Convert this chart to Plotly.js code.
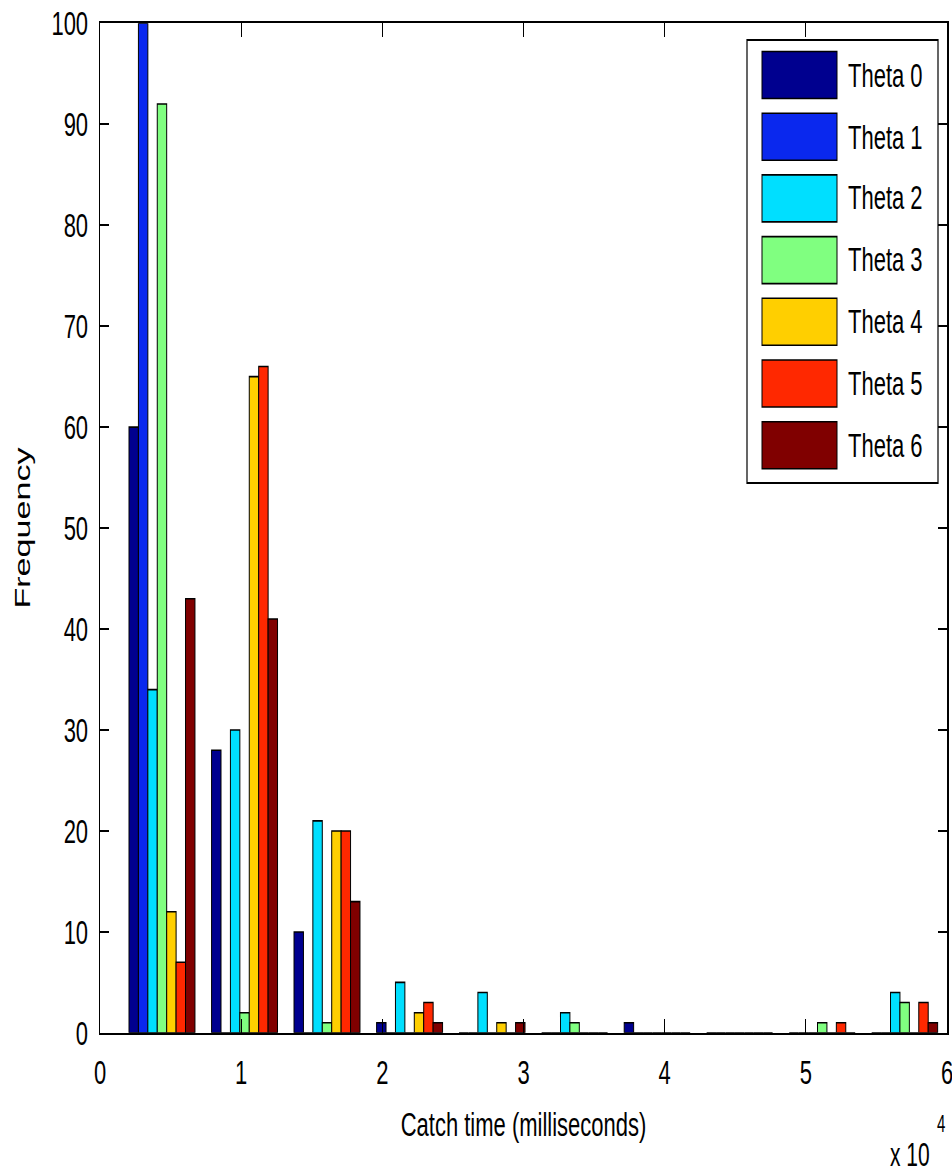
<!DOCTYPE html>
<html>
<head>
<meta charset="utf-8">
<script src="https://cdn.plot.ly/plotly-3.0.1.min.js"></script>
<style>
  html, body { margin: 0; padding: 0; background: #ffffff; }
  #wrap { width: 952px; height: 1174px; overflow: hidden; position: relative; background: #fff; }
  #plot { width: 952px; height: 757px; transform-origin: 0 0; }
</style>
</head>
<body>
<div id="wrap"><div id="plot"></div></div>
<script>
// ---- data (catch time in units of 10^4 ms) ----
const binCenters = [0.439, 1.024, 1.608, 2.193, 2.777, 3.362, 3.947, 4.531, 5.116, 5.700];
const seriesNames = ["Theta 0", "Theta 1", "Theta 2", "Theta 3", "Theta 4", "Theta 5", "Theta 6"];
const theta0 = [60, 28, 10, 1, 0, 0, 1, 0, 0, 0];
const theta1 = [100, 0, 0, 0, 0, 0, 0, 0, 0, 0];
const theta2 = [34, 30, 21, 5, 4, 2, 0, 0, 0, 4];
const theta3 = [92, 2, 1, 0, 0, 1, 0, 0, 1, 3];
const theta4 = [12, 65, 20, 2, 1, 0, 0, 0, 0, 0];
const theta5 = [7, 66, 20, 3, 0, 0, 0, 0, 1, 3];
const theta6 = [43, 41, 13, 1, 1, 0, 0, 0, 0, 1];
const seriesColors = ["#00008F", "#0A28EE", "#00DFFF", "#80FF80", "#FFCF00", "#FF2800", "#800000"];
const xTickVals = [0, 1, 2, 3, 4, 5, 6];
const yTickVals = [0, 10, 20, 30, 40, 50, 60, 70, 80, 90, 100];
const xTitle = "Catch time (milliseconds)";
const yTitle = "Frequency";

// ---- geometry: page is drawn at reduced height then stretched vertically ----
const W = 952, H0 = 757, S = 1174 / H0;
const M = { l: 100, r: 5, t: 15, b: 91 };
const plotW = W - M.l - M.r, plotH = H0 - M.t - M.b, plotBottom = H0 - M.b;
document.getElementById('plot').style.transform = 'scaleY(' + S + ')';
const px2x = px => (px - M.l) / plotW;
const py2y = py => (plotBottom - py / S) / plotH;

const allSeries = [theta0, theta1, theta2, theta3, theta4, theta5, theta6];
const FONT = "Liberation Sans, Arial, Helvetica, sans-serif";

const traces = allSeries.map((vals, i) => ({
  type: 'bar',
  name: seriesNames[i],
  x: binCenters,
  y: vals,
  marker: { color: seriesColors[i], line: { color: '#000000', width: 1 } },
  showlegend: false,
  hoverinfo: 'x+y+name'
}));

// custom MATLAB-style legend built from names / colours
const shapes = [];
const annotations = [];
shapes.push({
  type: 'rect', xref: 'paper', yref: 'paper', layer: 'above',
  x0: px2x(747), x1: px2x(938), y0: py2y(483), y1: py2y(40),
  fillcolor: '#ffffff', line: { color: '#000000', width: 1.2 }
});
seriesNames.forEach((nm, i) => {
  const cy = 75 + 61.7 * i;
  shapes.push({
    type: 'rect', xref: 'paper', yref: 'paper', layer: 'above',
    x0: px2x(762), x1: px2x(837), y0: py2y(cy + 23.5), y1: py2y(cy - 23.5),
    fillcolor: seriesColors[i], line: { color: '#000000', width: 1 }
  });
  annotations.push({
    xref: 'paper', yref: 'paper', x: px2x(846), y: py2y(cy),
    xanchor: 'left', yanchor: 'middle', showarrow: false,
    text: nm, font: { family: FONT, size: 22, color: '#000000' }
  });
});
// exponent label
annotations.push({
  xref: 'paper', yref: 'paper', x: px2x(910), y: py2y(1154),
  xanchor: 'center', yanchor: 'middle', showarrow: false, borderpad: 0,
  text: 'x 10', font: { family: FONT, size: 21, color: '#000000' }
});
annotations.push({
  xref: 'paper', yref: 'paper', x: px2x(941), y: py2y(1124),
  xanchor: 'center', yanchor: 'middle', showarrow: false, borderpad: 0,
  text: '4', font: { family: FONT, size: 15, color: '#000000' }
});

const axisCommon = {
  showline: true, linecolor: '#000000', linewidth: 1.5, mirror: 'ticks',
  ticks: 'inside', ticklen: 9, tickwidth: 1.3, tickcolor: '#000000',
  showgrid: false, zeroline: false, fixedrange: true,
  tickfont: { family: FONT, size: 22, color: '#000000' }
};

const layout = {
  width: W, height: H0,
  margin: M,
  paper_bgcolor: '#ffffff', plot_bgcolor: '#ffffff',
  font: { family: FONT, size: 22, color: '#000000' },
  barmode: 'group', bargap: 0.2, bargroupgap: 0,
  showlegend: false,
  xaxis: Object.assign({}, axisCommon, {
    range: [0, 6], tickmode: 'array', tickvals: xTickVals,
    ticklabelstandoff: 5, ticklabeloverflow: 'allow',
    title: { text: xTitle, standoff: 14, font: { family: FONT, size: 22, color: '#000000' } },
    automargin: false
  }),
  yaxis: Object.assign({}, axisCommon, {
    range: [0, 100], tickmode: 'array', tickvals: yTickVals,
    ticklabelstandoff: 6,
    title: { text: yTitle, standoff: 14, font: { family: FONT, size: 22, color: '#000000' } },
    automargin: false
  }),
  shapes: shapes,
  annotations: annotations
};

Plotly.newPlot('plot', traces, layout, { staticPlot: true, displayModeBar: false });
</script>
</body>
</html>
